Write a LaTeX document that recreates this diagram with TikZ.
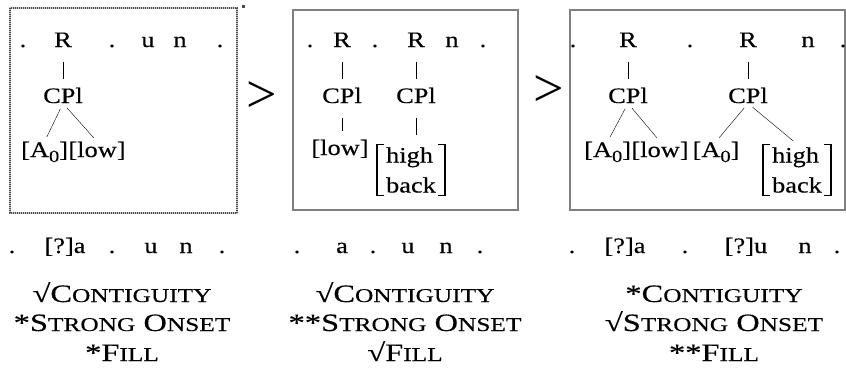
\documentclass[tikz,border=0pt]{standalone}
\usepackage{fontspec}
\setmainfont{Liberation Serif}
\newfontfamily\treefont[FakeStretch=1.2, FakeBold=0.3]{Liberation Serif}
\newfontfamily\consfont[FakeStretch=1.3, FakeBold=0.3]{Liberation Serif}
\usetikzlibrary{positioning}

\newcommand\zsub{\raisebox{-5pt}{\fontsize{17}{17}\selectfont 0}}
\newcommand\smcap[1]{{\fontsize{19.5}{20}\selectfont #1}}

\tikzset{
  seg/.style={font=\treefont\fontsize{22}{30}\selectfont, inner sep=0pt, anchor=base},
  cons/.style={font=\consfont\fontsize{25}{30}\selectfont, inner sep=0pt, anchor=base},
  vec/.style={seg, align=left, inner xsep=9pt, inner ysep=3pt, anchor=center},
  frame/.style={draw=gray, line width=2pt},
  stem/.style={shorten <=15pt, shorten >=9pt},
  branch/.style={shorten <=6pt, shorten >=5pt},
  brk/.style={line width=2.6pt},
  arm/.style={line width=1.1pt},
}

\begin{document}
\begin{tikzpicture}[x=1pt, y=-1pt]
  \useasboundingbox (0,0) rectangle (846,375);

  % the three candidates
  \draw[draw=gray!45, line width=2.4pt] (10,8) rectangle (237,213);
  \draw[draw=gray!60!black, line width=2.4pt, dash pattern=on 1pt off 1pt] (10,8) rectangle (237,213);
  \fill[gray!60!black] (242,5) rectangle (245,8);
  \draw[frame] (293,10) rectangle (518,210);
  \draw[frame] (570,10) rectangle (845,210);
  \node[font=\fontsize{54}{54}\selectfont, inner sep=0pt] (gt1) at (262,97) {>};
  \node[font=\fontsize{54}{54}\selectfont, inner sep=0pt] (gt2) at (549,91) {>};

  % skeleton rows
  \foreach \x/\s [count=\i] in {23/., 112/., 148/u, 180/n, 220/.,
      310/., 375/., 452/n, 483/., 573/., 690/., 808/n, 843/.}
    \node[seg] (top-\i) at (\x,47) {\s};
  \foreach \x/\s [count=\i] in {12/., 65/{[?]a}, 112/., 151/u, 186/n, 222/.,
      297/., 342/a, 373/., 408/u, 446/n, 480/.,
      572/., 625/{[?]a}, 685/., 746/{[?]u}, 805/n, 837/.}
    \node[seg] (out-\i) at (\x,253) {\s};

  % candidate 1
  \node[seg] (r1) at (63,47) {R};
  \node[seg] (cpl1) at (63,103) {CPl};
  \node[seg, anchor=base west] (a1) at (21,157) {[A\zsub]};
  \node[seg, base right=0pt of a1] (low1) {[low]};
  \draw[stem] (r1.south) -- (cpl1.north);
  \draw[branch] (cpl1.south) -- (a1.north);
  \draw[branch] (cpl1.south) -- (low1.north);

  % candidate 2
  \node[seg] (r2a) at (342,47) {R};
  \node[seg] (r2b) at (416,47) {R};
  \node[seg] (cpl2a) at (342,103) {CPl};
  \node[seg] (cpl2b) at (416,103) {CPl};
  \node[seg] (low2) at (340,155) {[low]};
  \node[vec] (hb2) at (411,170) {high\\back};
  \draw[stem] (r2a.south) -- (cpl2a.north);
  \draw[stem] (r2b.south) -- (cpl2b.north);
  \draw[stem] (cpl2a.south) -- (cpl2a.south |- low2.north);
  \draw[stem] (cpl2b.south) -- (cpl2b.south |- hb2.north);

  % candidate 3
  \node[seg] (r3a) at (628,47) {R};
  \node[seg] (r3b) at (748,47) {R};
  \node[seg] (cpl3a) at (628,103) {CPl};
  \node[seg] (cpl3b) at (748,103) {CPl};
  \node[seg, anchor=base west] (a3) at (584,157) {[A\zsub]};
  \node[seg, base right=0pt of a3] (low3) {[low]};
  \node[seg] (a3b) at (716,157) {[A\zsub]};
  \node[vec] (hb3) at (797,170) {high\\back};
  \draw[stem] (r3a.south) -- (cpl3a.north);
  \draw[stem] (r3b.south) -- (cpl3b.north);
  \draw[branch] (cpl3a.south) -- (a3.north);
  \draw[branch] (cpl3a.south) -- (low3.north);
  \draw[branch] (cpl3b.south) -- (a3b.north);
  \draw[branch] (cpl3b.south) -- (hb3.north);

  % brackets round the vowel features
  \foreach \m in {hb2, hb3}{
    \draw[brk] (\m.north west) -- (\m.south west);
    \draw[brk] (\m.north east) -- (\m.south east);
    \draw[arm] ([xshift=7pt]\m.north west) -- (\m.north west);
    \draw[arm] ([xshift=7pt]\m.south west) -- (\m.south west);
    \draw[arm] ([xshift=-7pt]\m.north east) -- (\m.north east);
    \draw[arm] ([xshift=-7pt]\m.south east) -- (\m.south east);
  }

  % constraint marks
  \foreach \x/\a/\b/\c [count=\i] in {122/√/*/*, 405/√/**/√, 714/*/√/**}{
    \node[cons] (con-\i) at (\x,302) {\a C\smcap{ONTIGUITY}};
    \node[cons] (ons-\i) at (\x,331) {\b S\smcap{TRONG} O\smcap{NSET}};
    \node[cons] (fil-\i) at (\x,361) {\c F\smcap{ILL}};
  }
\end{tikzpicture}
\end{document}
